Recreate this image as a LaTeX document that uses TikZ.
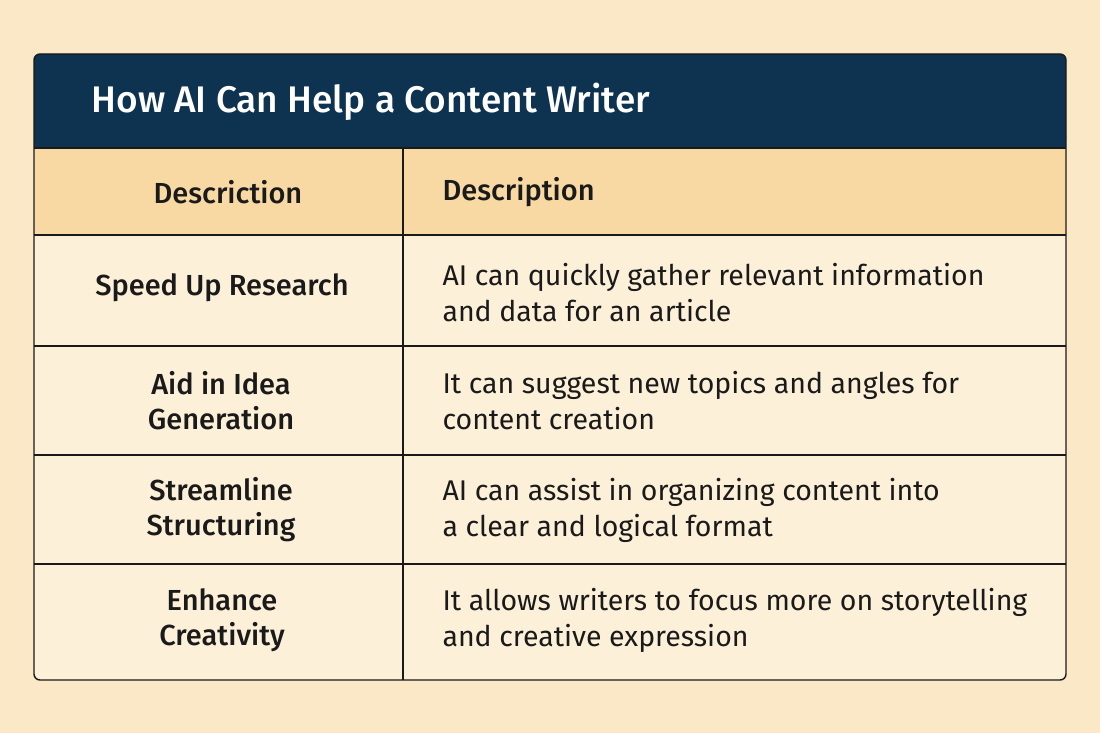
\documentclass[tikz,border=0pt]{standalone}
\usepackage{fontspec}
\setmainfont{Fira Sans}[BoldFont={Fira Sans Medium}]
\definecolor{bg}{HTML}{FBE8C6}
\definecolor{navy}{HTML}{0E3351}
\definecolor{hrow}{HTML}{F8D9A3}
\definecolor{crow}{HTML}{FCF0D8}
\definecolor{ink}{HTML}{1A1A1A}
\begin{document}
\begin{tikzpicture}[x=1pt,y=-1pt,
  lab/.style={font=\fontsize{29}{35}\selectfont\bfseries,text=ink,align=center},
  desc/.style={font=\fontsize{28.5}{36}\selectfont,text=ink,align=left,anchor=west},
  grid/.style={draw=ink,line width=1.4pt}]
\fill[bg] (0,0) rectangle (1100,733);
\useasboundingbox (0,0) rectangle (1100,733);
\fill[crow,rounded corners=6pt] (34,54) rectangle (1066,680);
\fill[hrow] (34,148) rectangle (1066,235);
\fill[navy,rounded corners=6pt] (34,54) rectangle (1066,148);
\fill[navy] (34,120) rectangle (1066,148);
\draw[grid,rounded corners=6pt] (34,54) rectangle (1066,680);
\foreach \y in {148,235,346,455,564} \draw[grid] (34,\y) -- (1066,\y);
\draw[grid] (403,148) -- (403,680);
\node[anchor=west,text=white,font=\fontsize{37}{42}\selectfont\bfseries] (title) at (88,102) {How AI Can Help a Content Writer};
\node[lab] (h1) at (228,192) {Descriction};
\node[desc,font=\fontsize{29}{36}\selectfont\bfseries] (h2) at (439,192) {Description};
\node[lab] (l1) at (222,288) {Speed Up Research};
\node[desc] (d1) at (439,293) {AI can quickly gather relevant information\\and data for an article};
\node[lab] (l2) at (221,401) {Aid in Idea\\Generation};
\node[desc] (d2) at (439,401) {It can suggest new topics and angles for\\content creation};
\node[lab] (l3) at (221,510) {Streamline\\Structuring};
\node[desc] (d3) at (439,510) {AI can assist in organizing content into\\a clear and logical format};
\node[lab] (l4) at (222,620) {Enhance\\Creativity};
\node[desc] (d4) at (439,620) {It allows writers to focus more on storytelling\\and creative expression};
\end{tikzpicture}
\end{document}
